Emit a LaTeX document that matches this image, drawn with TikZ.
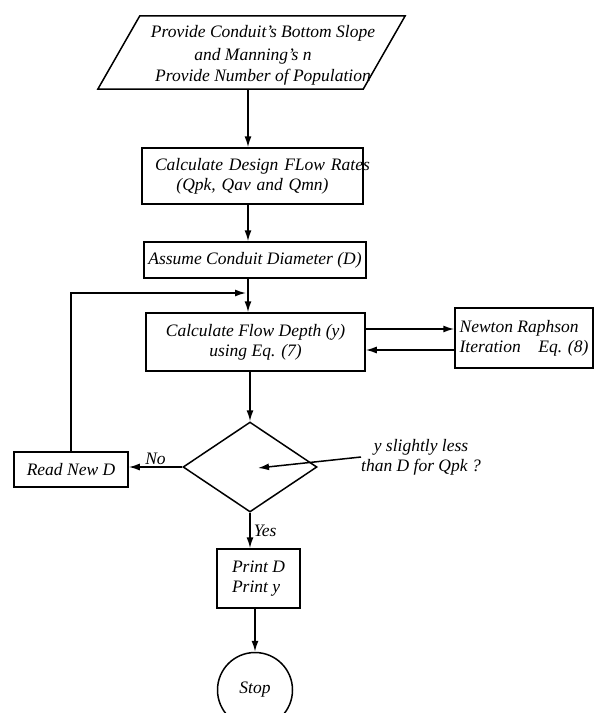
\documentclass[tikz,border=0pt]{standalone}
\usepackage{fontspec}
\setmainfont{Liberation Serif}
\usetikzlibrary{shapes.geometric,arrows.meta,calc}
\begin{document}
\begin{tikzpicture}[x=1pt,y=-1pt,
  every node/.style={font=\fontsize{17.5}{20}\selectfont\itshape},
  box/.style={draw,line width=1.5pt,inner sep=0pt,align=center},
  arr/.style={line width=1.5pt,-{Latex[length=11pt,width=7pt]}},
  lbl/.style={inner sep=0pt,align=center},
  edge/.style={line width=1.5pt}
]
\useasboundingbox (0,0) rectangle (596,713);
% input parallelogram
\node[lbl,minimum width=307pt,minimum height=73pt] (in) at (251.5,52.5) {};
\draw[edge] ($(in.north west)+(42,0)$) -- (in.north east) -- ($(in.south east)+(-42,0)$) -- (in.south west) -- cycle;
\node[lbl] (t1) at (263,33) {Provide Conduit's Bottom Slope};
\node[lbl] (t2) at (253,56) {and Manning's n};
\node[lbl] (t3) at (263,77) {Provide Number of Population};
% boxes
\node[box,minimum width=221pt,minimum height=56pt,text width=195pt] (flow) at (252.5,176) {\mbox{Calculate Design FLow Rates}\\(Qpk, Qav and Qmn)};
\node[box,minimum width=222pt,minimum height=36pt] (dia) at (255,260) {Assume Conduit Diameter (D)};
\node[box,minimum width=219pt,minimum height=58pt] (calc) at (255.5,342) {Calculate Flow Depth (y)\\using Eq. (7)};
\node[box,align=left,minimum width=138pt,minimum height=60pt] (newton) at (524,338) {Newton Raphson\\Iteration\quad Eq. (8)};
\node[draw,diamond,line width=1.5pt,minimum width=134pt,minimum height=90pt,inner sep=0pt] (dec) at (250,467) {};
\node[lbl] (q) at (421,457) {y slightly less\\than D for Qpk ?};
\coordinate (ptip) at (258,468);
\node[box,minimum width=114pt,minimum height=35pt] (readd) at (71,469.5) {Read New D};
\node[box,align=left,minimum width=83pt,minimum height=59pt] (print) at (258.5,578.5) {Print D\\Print y};
\node[draw,circle,line width=1.5pt,minimum size=75pt,inner sep=0pt] (stop) at (255,690) {Stop};
% connectors
\coordinate (ax) at (248,0);
\coordinate (u) at (0,329);
\coordinate (l) at (0,350);
\coordinate (merge) at (246,293);
\draw[arr] (in.south -| ax) -- (flow.north -| ax);
\draw[arr] (flow.south -| ax) -- (dia.north -| ax);
\draw[arr] (dia.south -| ax) -- (calc.north -| ax);
\draw[arr] (readd.north) |- (merge);
\draw[arr] (calc.east |- u) -- (newton.west |- u);
\draw[arr] (newton.west |- l) -- (calc.east |- l);
\draw[arr] (calc.south -| dec.north) -- (dec.north);
\draw[arr] (dec.west) -- (dec.west -| readd.east) node[midway,above,inner sep=2pt] {No};
\draw[arr] (dec.south) -- (print.north -| dec.south) node[midway,right,inner sep=3pt] {Yes};
\draw[arr] (print.south -| stop.north) -- (stop.north);
\draw[arr] (q.west) -- (ptip);
\end{tikzpicture}
\end{document}
